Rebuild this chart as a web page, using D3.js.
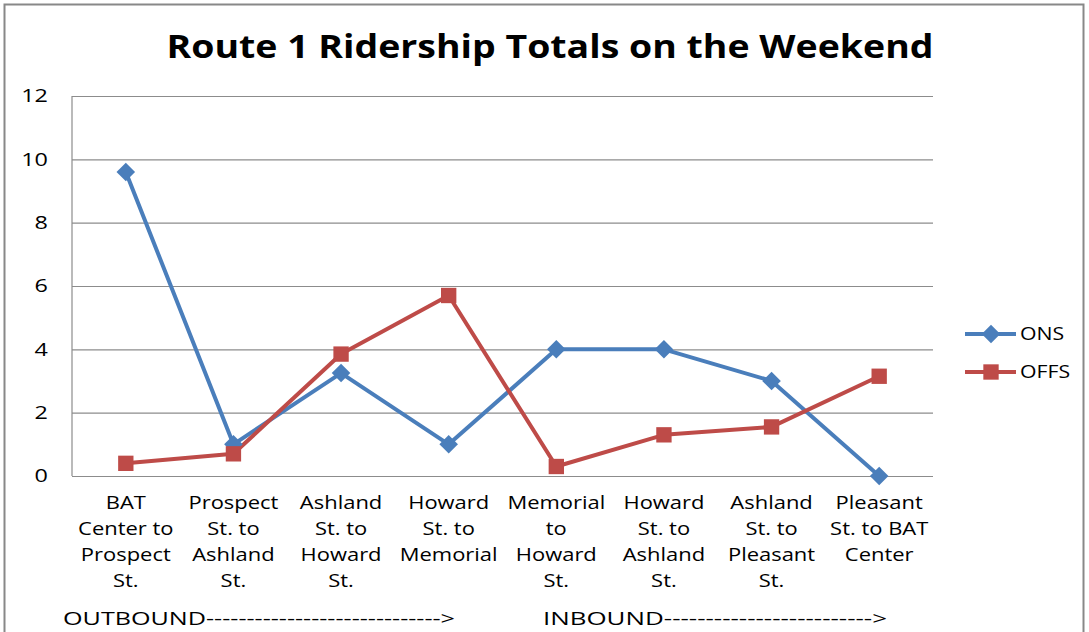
<!DOCTYPE html>
<html>
<head>
<meta charset="utf-8">
<script src="https://cdn.jsdelivr.net/npm/d3@7"></script>
<style>
  body { margin: 0; background: #fff; }
  text { font-family: "Open Sans", "Noto Sans", sans-serif; fill: #000; }
</style>
</head>
<body>
<div class="chart"></div>
<script>
const categories = [
  ["BAT", "Center to", "Prospect", "St."],
  ["Prospect", "St. to", "Ashland", "St."],
  ["Ashland", "St. to", "Howard", "St."],
  ["Howard", "St. to", "Memorial"],
  ["Memorial", "to", "Howard", "St."],
  ["Howard", "St. to", "Ashland", "St."],
  ["Ashland", "St. to", "Pleasant", "St."],
  ["Pleasant", "St. to BAT", "Center"]
]
const ons = [9.6, 1, 3.25, 1, 4, 4, 3, 0]
const offs = [0.4, 0.7, 3.85, 5.7, 0.3, 1.3, 1.55, 3.15]
const yTicks = [0, 2, 4, 6, 8, 10, 12]
const seriesNames = ["ONS", "OFFS"]

const W = 1089, H = 632
const margin = ({top: 96, right: 156, bottom: 156, left: 72})
const width = W - margin.left - margin.right,
  height = H - margin.top - margin.bottom

const blue = "#4a7ebb", red = "#be4b48"
const stretch = 1.22  // reference text is drawn wide

const root = d3.select(".chart").append("svg")
  .attr("width", W)
  .attr("height", H)

// outer frame
root.append("rect")
  .attr("x", 4.5).attr("y", 4.5)
  .attr("width", 1079).attr("height", 640)
  .attr("fill", "none")
  .attr("stroke", "#888")
  .attr("stroke-width", 2)

root.append("text")
  .attr("x", 550)
  .attr("y", 58)
  .attr("text-anchor", "middle")
  .attr("font-size", 33)
  .attr("font-weight", "bold")
  .attr("textLength", 767)
  .attr("lengthAdjust", "spacingAndGlyphs")
  .text("Route 1 Ridership Totals on the Weekend")

const svg = root.append("g")
  .attr("transform", `translate(${margin.left},${margin.top})`)

const xScale = d3.scaleBand()
  .domain(d3.range(categories.length))
  .range([0, width])

const yScale = d3.scaleLinear()
  .domain([0, 12])
  .range([height, 0])

const cx = i => xScale(i) + xScale.bandwidth() / 2

// grid
const yAxisGrid = d3.axisLeft(yScale).tickValues(yTicks).tickSize(-width).tickFormat('')
svg.append('g')
  .attr('class', 'y axis-grid')
  .call(yAxisGrid)
  .call(g => g.select(".domain").remove())
  .call(g => g.selectAll("line").attr("stroke", "#8c8c8c").attr("stroke-width", 1.2))

// left axis line
svg.append("line")
  .attr("x1", 0).attr("x2", 0)
  .attr("y1", 0).attr("y2", height)
  .attr("stroke", "#8c8c8c").attr("stroke-width", 1.2)

// y tick labels
svg.selectAll(".ylab")
  .data(yTicks)
  .enter()
  .append("text")
  .attr("class", "ylab")
  .attr("transform", d => `translate(-24,${yScale(d)}) scale(1.3,1)`)
  .attr("dy", "0.35em")
  .attr("text-anchor", "end")
  .attr("font-size", 18)
  .text(d => d)

// x labels
const xl = svg.selectAll(".xlab")
  .data(categories)
  .enter()
  .append("text")
  .attr("class", "xlab")
  .attr("text-anchor", "middle")
  .attr("font-size", 18)
  .attr("transform", (d, i) => `translate(${cx(i)},0) scale(${stretch},1)`)

xl.selectAll("tspan")
  .data(d => d)
  .enter()
  .append("tspan")
  .attr("x", 0)
  .attr("y", (d, j) => height + 33 + j * 26)
  .text(d => d)

// lines
const line = d3.line()
  .x((d, i) => cx(i))
  .y(d => yScale(d))

svg.append("path")
  .datum(ons)
  .attr("fill", "none")
  .attr("stroke", blue)
  .attr("stroke-width", 4)
  .attr("stroke-linejoin", "round")
  .attr("d", line)

svg.append("path")
  .datum(offs)
  .attr("fill", "none")
  .attr("stroke", red)
  .attr("stroke-width", 4)
  .attr("stroke-linejoin", "round")
  .attr("d", line)

const diamond = d3.symbol().type(d3.symbolDiamond2).size(220)
const square = d3.symbol().type(d3.symbolSquare2).size(300)

svg.selectAll(".on")
  .data(ons)
  .enter()
  .append("path")
  .attr("class", "on")
  .attr("d", diamond)
  .attr("transform", (d, i) => `translate(${cx(i)},${yScale(d)})`)
  .attr("fill", blue)

svg.selectAll(".off")
  .data(offs)
  .enter()
  .append("path")
  .attr("class", "off")
  .attr("d", square)
  .attr("transform", (d, i) => `translate(${cx(i)},${yScale(d)})`)
  .attr("fill", red)

// legend
const legend = root.append("g")
  .selectAll("g")
  .data(seriesNames)
  .enter()
  .append("g")
  .attr("transform", (d, i) => `translate(965,${334 + i * 38})`)

legend.append("line")
  .attr("x1", 0).attr("x2", 51)
  .attr("stroke", (d, i) => i ? red : blue)
  .attr("stroke-width", 4)

legend.append("path")
  .attr("d", (d, i) => i ? square() : diamond())
  .attr("transform", "translate(26,0)")
  .attr("fill", (d, i) => i ? red : blue)

legend.append("text")
  .attr("transform", "translate(55,0) scale(1.18,1)")
  .attr("dy", "0.35em")
  .attr("font-size", 18)
  .text(d => d)

// direction labels
root.append("text")
  .attr("x", 63).attr("y", 625)
  .attr("font-size", 19)
  .attr("textLength", 392)
  .attr("lengthAdjust", "spacingAndGlyphs")
  .text("OUTBOUND----------------------------->")

root.append("text")
  .attr("x", 543).attr("y", 625)
  .attr("font-size", 19)
  .attr("textLength", 344)
  .attr("lengthAdjust", "spacingAndGlyphs")
  .text("INBOUND------------------------->")
</script>
</body>
</html>
